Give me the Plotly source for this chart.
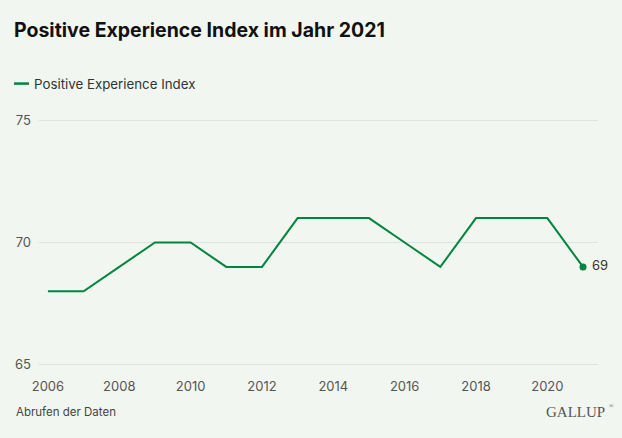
import plotly.graph_objects as go

years = list(range(2006, 2022))
values = [68, 68, 69, 70, 70, 69, 69, 71, 71, 71, 70, 69, 71, 71, 71, 69]
series_name = "Positive Experience Index"
title_text = "Positive Experience Index im Jahr 2021"
x_ticks = [2006, 2008, 2010, 2012, 2014, 2016, 2018, 2020]
y_ticks = [65, 70, 75]

green = "#00853f"
bg = "#f1f7f0"

W, H = 622, 438
L, R = 39, 24
PAD = 0.1  # y-range padding (data units) so edge gridlines are drawn
PLOT_TOP, PLOT_BOTTOM = 120, 365
pad_px = PAD * (PLOT_BOTTOM - PLOT_TOP) / 10
T_M, B_M = PLOT_TOP - pad_px, H - PLOT_BOTTOM - pad_px
def py(pix):
    top, bot = PLOT_TOP - pad_px, PLOT_BOTTOM + pad_px
    return (bot - pix) / (bot - top)
def px(pix):
    return (pix - L) / (W - L - R)

fig = go.Figure()
fig.add_trace(go.Scatter(x=years, y=values, mode="lines", line=dict(color=green, width=2),
                         name=series_name, showlegend=False, hoverinfo="skip"))
fig.add_trace(go.Scatter(x=[years[-1]], y=[values[-1]], mode="markers+text",
                         marker=dict(color=green, size=7), text=[" " + str(values[-1])],
                         textposition="middle right", textfont=dict(size=13, color="#333", family="Inter"),
                         cliponaxis=False, showlegend=False, hoverinfo="skip"))

fig.update_layout(
    width=W, height=H,
    paper_bgcolor=bg, plot_bgcolor=bg,
    margin=dict(l=L, r=R, t=T_M, b=B_M),
    showlegend=False,
    title=dict(text="<b>" + title_text + "</b>", x=14/W, xref="container", xanchor="left",
               y=1 - 30/H, yref="container", yanchor="middle",
               font=dict(family="Inter", size=19.5, color="#111")),
    xaxis=dict(range=[2005.75, 2021.42], tickvals=x_ticks, showgrid=False, zeroline=False,
               showline=False, ticks="", ticklabelstandoff=int(round(8 + pad_px)),
               tickfont=dict(family="Inter", size=13, color="#555")),
    yaxis=dict(range=[65 - PAD, 75 + PAD], tickvals=y_ticks, showgrid=True, gridcolor="#dde3dd", gridwidth=1,
               zeroline=False, showline=False, ticks="", ticklabelstandoff=7,
               tickfont=dict(family="Inter", size=13, color="#555")),
)
# legend drawn manually (short line + label)
fig.add_shape(type="line", xref="paper", yref="paper", x0=px(14), x1=px(29), y0=py(83), y1=py(83),
              line=dict(color=green, width=2.5))
fig.add_annotation(text=series_name, x=px(32), xref="paper", y=py(83), yref="paper",
                   xanchor="left", yanchor="middle", showarrow=False,
                   font=dict(family="Inter", size=13.3, color="#333"))
fig.add_annotation(text="Abrufen der Daten", x=px(14), xref="paper", y=py(413), yref="paper",
                   xanchor="left", yanchor="middle", showarrow=False,
                   font=dict(family="Inter", size=11.5, color="#444"))
fig.add_annotation(text="GALLUP", x=px(607), xref="paper",
                   y=py(413), yref="paper",
                   xanchor="right", yanchor="middle", showarrow=False,
                   font=dict(family="Liberation Serif", size=15, color="#555"))
fig.add_annotation(text="®", x=px(607), xref="paper",
                   y=py(407), yref="paper",
                   xanchor="left", yanchor="middle", showarrow=False,
                   font=dict(family="Liberation Serif", size=6, color="#555"))
fig.write_html("out.html", config={"displayModeBar": False},
               post_script="document.body.style.margin='0';document.body.style.overflow='hidden';")
